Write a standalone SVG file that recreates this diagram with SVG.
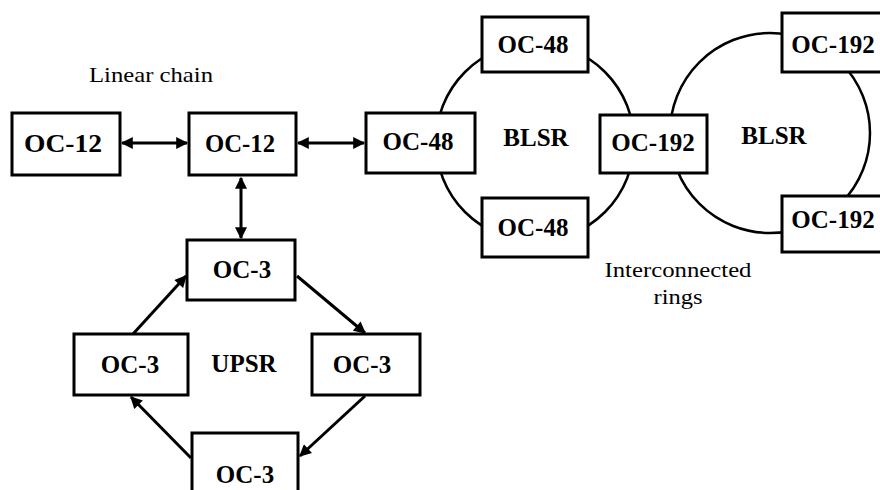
<svg xmlns="http://www.w3.org/2000/svg" width="880" height="490" viewBox="0 0 880 490">
<style>
.box{fill:#fff;stroke:#000;stroke-width:3}
.lbl{font-family:"Liberation Serif","Times New Roman",serif;font-weight:bold;font-size:25px;fill:#000;text-anchor:middle}
.cap{font-family:"Liberation Serif","Times New Roman",serif;font-size:21px;fill:#000;text-anchor:middle}
.ring{fill:none;stroke:#000;stroke-width:2.5}
.arr{fill:none;stroke:#000;stroke-width:3}
</style>
<defs>
<marker id="ah" viewBox="0 0 10 10" refX="9" refY="5" markerWidth="4.5" markerHeight="4" orient="auto-start-reverse" markerUnits="strokeWidth">
<path d="M0,0 L10,5 L0,10 Z" fill="#000"/>
</marker>
</defs>
<rect width="880" height="490" fill="#fff"/>
<g id="rings">
<circle class="ring" cx="535" cy="142" r="99"/>
<circle class="ring" cx="770" cy="133" r="100"/>
</g>
<g id="connectors">
<line class="arr" x1="122" y1="143" x2="187" y2="143" marker-start="url(#ah)" marker-end="url(#ah)"/>
<line class="arr" x1="298" y1="143" x2="364" y2="143" marker-start="url(#ah)" marker-end="url(#ah)"/>
<line class="arr" x1="241" y1="178" x2="241" y2="238" marker-start="url(#ah)" marker-end="url(#ah)"/>
<line class="arr" x1="133" y1="334" x2="186" y2="276" marker-end="url(#ah)"/>
<line class="arr" x1="297" y1="276" x2="365" y2="333" marker-end="url(#ah)"/>
<line class="arr" x1="365" y1="396" x2="300" y2="456" marker-end="url(#ah)"/>
<line class="arr" x1="191" y1="458" x2="131" y2="397" marker-end="url(#ah)"/>
</g>
<text class="cap" x="151" y="82" textLength="124" lengthAdjust="spacingAndGlyphs">Linear chain</text>
<text class="cap" x="678" y="277" textLength="147" lengthAdjust="spacingAndGlyphs">Interconnected</text>
<text class="cap" x="678" y="304" textLength="49" lengthAdjust="spacingAndGlyphs">rings</text>
<text class="lbl" x="536" y="146">BLSR</text>
<text class="lbl" x="774" y="144">BLSR</text>
<text class="lbl" x="244" y="372">UPSR</text>
<g id="n-oc12a"><rect class="box" x="12" y="113" width="108" height="62"/><text class="lbl" x="63" y="152" textLength="78" lengthAdjust="spacingAndGlyphs">OC-12</text></g>
<g id="n-oc12b"><rect class="box" x="189" y="113" width="107" height="62"/><text class="lbl" x="240" y="152" textLength="70" lengthAdjust="spacingAndGlyphs">OC-12</text></g>
<g id="n-oc48l"><rect class="box" x="366" y="113" width="109" height="60"/><text class="lbl" x="418" y="150">OC-48</text></g>
<g id="n-oc48t"><rect class="box" x="482" y="17" width="106" height="55"/><text class="lbl" x="533" y="53">OC-48</text></g>
<g id="n-oc48b"><rect class="box" x="482" y="198" width="106" height="59"/><text class="lbl" x="533" y="236">OC-48</text></g>
<g id="n-oc192m"><rect class="box" x="600" y="115" width="107" height="58"/><text class="lbl" x="653" y="151">OC-192</text></g>
<g id="n-oc192t"><rect class="box" x="782" y="13" width="110" height="59"/><text class="lbl" x="833" y="53">OC-192</text></g>
<g id="n-oc192b"><rect class="box" x="782" y="196" width="110" height="56"/><text class="lbl" x="833" y="228">OC-192</text></g>
<g id="n-oc3t"><rect class="box" x="187" y="240" width="108" height="60"/><text class="lbl" x="242" y="278">OC-3</text></g>
<g id="n-oc3l"><rect class="box" x="74" y="334" width="114" height="61"/><text class="lbl" x="130" y="373">OC-3</text></g>
<g id="n-oc3r"><rect class="box" x="312" y="334" width="108" height="61"/><text class="lbl" x="362" y="373">OC-3</text></g>
<g id="n-oc3b"><rect class="box" x="192" y="433" width="106" height="70"/><text class="lbl" x="245" y="483">OC-3</text></g>
</svg>
